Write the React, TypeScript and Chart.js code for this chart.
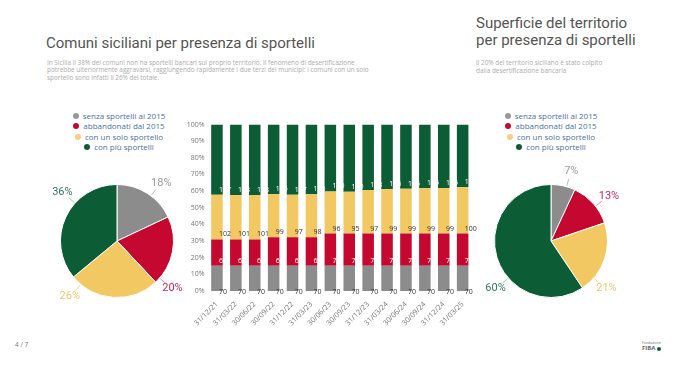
import React, { useEffect, useRef } from "react";
import { Chart, registerables } from "chart.js";

Chart.register(...registerables);

// ---------- DATA ----------
const categories = [
  "31/12/21", "31/03/22", "30/06/22", "30/09/22", "31/12/22", "31/03/23", "30/06/23",
  "30/09/23", "31/12/23", "31/03/24", "30/06/24", "30/09/24", "31/12/24", "31/03/25",
];
const seriesNames = ["senza sportelli al 2015", "abbandonati dal 2015", "con un solo sportello", "con più sportelli"];

// shares (%) of each bar segment
const grayPct = [15.2, 15.2, 15.2, 15.2, 15.2, 15.2, 15.2, 15.2, 15.2, 15.2, 15.2, 15.2, 15.2, 15.2];
const redPct = [15.8, 15.8, 15.8, 17.1, 17.1, 17.1, 19.3, 19.3, 19.3, 19.3, 19.3, 19.3, 19.3, 19.3];
const yellowPct = [26.8, 26.6, 26.6, 26.0, 25.5, 25.8, 25.3, 25.1, 26.2, 26.8, 26.9, 27.2, 27.4, 27.8];
const greenPct = [42.2, 42.4, 42.4, 41.7, 42.2, 41.9, 40.2, 40.4, 39.3, 38.7, 38.6, 38.3, 38.1, 37.7];

// counts shown as bar labels
const grayCount = [70, 70, 70, 70, 70, 70, 70, 70, 70, 70, 70, 70, 70, 70];
const redCount = [62, 62, 62, 67, 67, 67, 75, 76, 76, 76, 77, 77, 77, 78];
const yellowCount = [102, 101, 101, 99, 97, 98, 96, 95, 97, 99, 99, 99, 99, 100];
const greenCount = [157, 158, 158, 155, 157, 156, 150, 150, 148, 146, 145, 145, 145, 143];

const yTicks = [0, 10, 20, 30, 40, 50, 60, 70, 80, 90, 100];

const leftPie = [18, 20, 26, 36];
const rightPie = [7, 13, 21, 60];

// ---------- STYLE ----------
const COLORS = ["#8c8c8c", "#c4082f", "#f2c862", "#0c5c35"];
const LEGEND_DOT = ["#999999", "#c4082f", "#f5d07e", "#0c5c35"];
const LABEL_COLORS = ["#9a9a9a", "#c62858", "#f0c76a", "#2e7a5c"];
const LEADER_COLORS = ["rgba(160,160,160,0.7)", "rgba(220,90,130,0.7)", "rgba(240,200,110,0.7)", "rgba(90,190,150,0.7)"];

const barLabelPlugin = {
  id: "barLabels",
  afterDatasetsDraw(chart: any) {
    const ctx = chart.ctx;
    const counts = [grayCount, redCount, yellowCount, greenCount];
    const colors = ["#333333", "#ffffff", "#333333", "#ffffff"];
    const dy = [1.0, -4.7, -5, -5];
    ctx.save();
    ctx.font = "7px 'Open Sans', sans-serif";
    ctx.textAlign = "left";
    ctx.textBaseline = "middle";
    chart.data.datasets.forEach((ds: any, i: number) => {
      const meta = chart.getDatasetMeta(i);
      meta.data.forEach((bar: any, j: number) => {
        ctx.fillStyle = colors[i];
        ctx.fillText(String(counts[i][j]), bar.x + bar.width / 2 - 3.6, bar.base + dy[i]);
      });
    });
    ctx.restore();
  },
};

function makePieLabelPlugin(labelAngles: number[]) {
  return {
    id: "pieLabels",
    afterDraw(chart: any) {
      const ctx = chart.ctx;
      const meta = chart.getDatasetMeta(0);
      const vals = chart.data.datasets[0].data;
      ctx.save();
      meta.data.forEach((arc: any, i: number) => {
        const r = arc.outerRadius;
        const a = ((labelAngles[i] - 90) * Math.PI) / 180;
        const cx = arc.x, cy = arc.y;
        ctx.strokeStyle = LEADER_COLORS[i];
        ctx.lineWidth = 1;
        ctx.beginPath();
        ctx.moveTo(cx + Math.cos(a) * (r + 1), cy + Math.sin(a) * (r + 1));
        ctx.lineTo(cx + Math.cos(a) * (r + 8), cy + Math.sin(a) * (r + 8));
        ctx.stroke();
        ctx.fillStyle = LABEL_COLORS[i];
        ctx.font = "11px Roboto, sans-serif";
        ctx.textAlign = "center";
        ctx.textBaseline = "middle";
        ctx.fillText(vals[i] + "%", cx + Math.cos(a) * (r + 17), cy + Math.sin(a) * (r + 16));
      });
      ctx.restore();
    },
  };
}

function PieChart({ values, labelAngles, style }: { values: number[]; labelAngles: number[]; style: any }) {
  const ref = useRef<HTMLCanvasElement>(null);
  useEffect(() => {
    const chart = new Chart(ref.current as HTMLCanvasElement, {
      type: "pie",
      data: {
        labels: seriesNames,
        datasets: [{ data: values, backgroundColor: COLORS, borderColor: "#ffffff", borderWidth: 1 }],
      },
      options: {
        responsive: false,
        animation: false,
        layout: { padding: { top: 18, bottom: 18, left: 33, right: 33 } },
        plugins: { legend: { display: false }, tooltip: { enabled: false } },
      },
      plugins: [makePieLabelPlugin(labelAngles)],
    } as any);
    return () => chart.destroy();
  }, []);
  return <canvas ref={ref} width={180} height={150} style={{ position: "absolute", ...style }} />;
}

function BarChart() {
  const ref = useRef<HTMLCanvasElement>(null);
  useEffect(() => {
    const pcts = [grayPct, redPct, yellowPct, greenPct];
    const chart = new Chart(ref.current as HTMLCanvasElement, {
      type: "bar",
      data: {
        labels: categories,
        datasets: pcts.map((d, i) => ({
          label: seriesNames[i],
          data: d,
          backgroundColor: COLORS[i],
          borderWidth: 0,
          barPercentage: 0.61,
          categoryPercentage: 1,
        })),
      },
      options: {
        responsive: false,
        animation: false,
        layout: { padding: { top: 14.5, right: 7.9, left: 0, bottom: 0 } },
        plugins: { legend: { display: false }, tooltip: { enabled: false } },
        scales: {
          x: {
            stacked: true,
            grid: { display: false, drawTicks: false },
            border: { display: false },
            ticks: {
              autoSkip: false,
              maxRotation: 45,
              minRotation: 45,
              padding: 9,
              color: "#777777",
              font: { size: 7.3, family: "'Open Sans', sans-serif" },
            },
            afterFit: (s: any) => { s.height = 59; },
          },
          y: {
            stacked: true,
            min: yTicks[0],
            max: yTicks[yTicks.length - 1],
            grid: { display: false, drawTicks: false },
            border: { display: false },
            afterBuildTicks: (s: any) => { s.ticks = yTicks.map((v) => ({ value: v })); },
            ticks: {
              padding: 3,
              color: "#777777",
              font: { size: 7, family: "'Open Sans', sans-serif" },
              callback: (v: any) => v + "%",
            },
            afterFit: (s: any) => { s.width = 27.5; },
          },
        },
      },
      plugins: [barLabelPlugin],
    } as any);
    return () => chart.destroy();
  }, []);
  return <canvas ref={ref} width={300} height={240} style={{ position: "absolute", left: 180, top: 110 }} />;
}

function Legend({ centerX, top }: { centerX: number; top: number }) {
  return (
    <div
      style={{
        position: "absolute",
        left: centerX - 80,
        top,
        width: 160,
        display: "flex",
        flexDirection: "column",
        alignItems: "center",
        fontFamily: "'Open Sans', sans-serif",
        fontSize: 8,
        lineHeight: "10.3px",
        color: "#4a72a6",
      }}
    >
      {seriesNames.map((n, i) => (
        <div key={n} style={{ display: "flex", alignItems: "center", whiteSpace: "nowrap" }}>
          <span
            style={{
              display: "inline-block",
              width: 6,
              height: 6,
              borderRadius: 3,
              background: LEGEND_DOT[i],
              marginRight: 4,
            }}
          />
          {n}
        </div>
      ))}
    </div>
  );
}

export default function App() {
  const sub: any = {
    position: "absolute",
    fontFamily: "'Open Sans', sans-serif",
    fontSize: 6.4,
    lineHeight: "7.3px",
    color: "#ababab",
    whiteSpace: "nowrap",
  };
  const title: any = {
    position: "absolute",
    fontFamily: "Roboto, sans-serif",
    fontSize: 15,
    color: "#555555",
    whiteSpace: "nowrap",
  };
  return (
    <div
      style={{
        position: "absolute",
        left: 0,
        top: 0,
        width: 696,
        height: 367,
        background: "#ffffff",
        overflow: "hidden",
      }}
    >
      <div style={{ ...title, left: 46, top: 33, lineHeight: "20px" }}>Comuni siciliani per presenza di sportelli</div>
      <div style={{ ...sub, left: 47, top: 59 }}>
        In Sicilia il 38% dei comuni non ha sportelli bancari sul proprio territorio. Il fenomeno di desertificazione
        <br />
        potrebbe ulteriormente aggravarsi, raggiungendo rapidamente i due terzi dei municipi: i comuni con un solo
        <br />
        sportello sono infatti il 26% del totale.
      </div>

      <div style={{ ...title, left: 476, top: 15, lineHeight: "16.7px" }}>
        Superficie del territorio
        <br />
        per presenza di sportelli
      </div>
      <div style={{ ...sub, left: 476, top: 59, lineHeight: "8.4px" }}>
        Il 20% del territorio siciliano è stato colpito
        <br />
        dalla desertificazione bancaria
      </div>

      <Legend centerX={119} top={111} />
      <Legend centerX={551} top={111} />

      <PieChart values={leftPie} labelAngles={[37, 131, 220, 312]} style={{ left: 27, top: 166 }} />
      <PieChart values={rightPie} labelAngles={[16, 52, 131, 229]} style={{ left: 461, top: 166 }} />

      <BarChart />

      <div style={{ ...sub, left: 15, top: 341, fontSize: 6.5, color: "#777777" }}>4 / 7</div>
      <div style={{ position: "absolute", left: 642, top: 341, fontFamily: "'Open Sans', sans-serif", color: "#666666" }}>
        <div style={{ fontSize: 3.5, lineHeight: "4px" }}>Fondazione</div>
        <div style={{ fontSize: 6, lineHeight: "7px", fontWeight: 700, display: "flex", alignItems: "center" }}>
          FIBA
          <span style={{ display: "inline-block", width: 4, height: 4, borderRadius: 2, background: "#0c5c35", marginLeft: 2 }} />
        </div>
      </div>
    </div>
  );
}
